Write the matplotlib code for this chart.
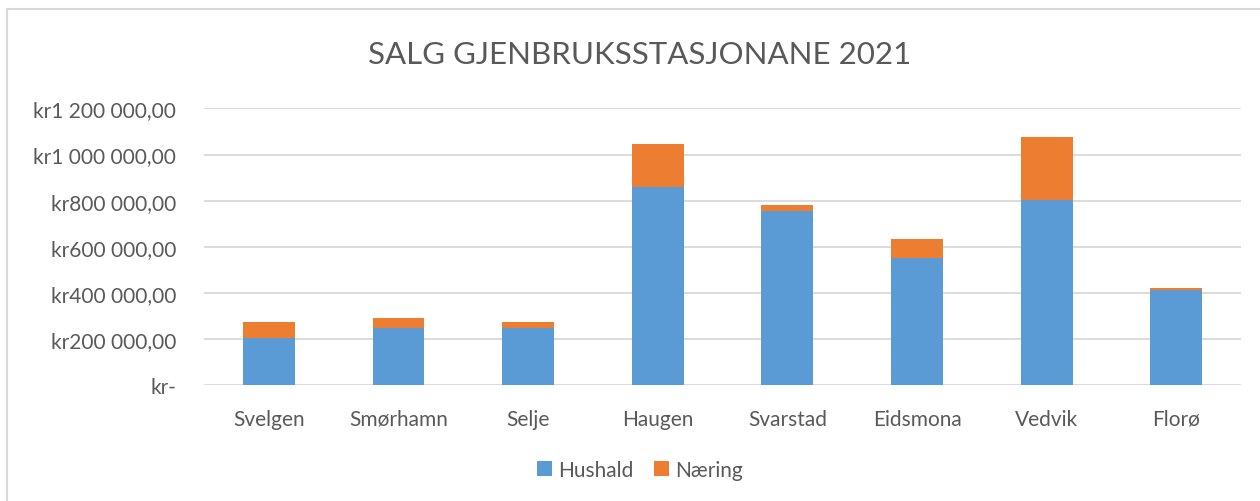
import numpy as np
import matplotlib.pyplot as plt
from matplotlib.patches import Rectangle
from matplotlib.ticker import FuncFormatter

stasjonar = ['Svelgen', 'Smørhamn', 'Selje', 'Haugen', 'Svarstad', 'Eidsmona', 'Vedvik', 'Florø']
hushald = [202000, 246000, 246000, 860000, 753000, 552000, 804000, 414000]
naering = [72000, 45000, 26000, 187000, 29000, 83000, 272000, 8000]
y_ticks = [0, 200000, 400000, 600000, 800000, 1000000, 1200000]

blue = '#5B9BD5'
orange = '#ED7D31'
txt = '#595959'
grid = '#D9D9D9'

plt.rcParams['font.family'] = ['Lato', 'DejaVu Sans']

def kr(v, pos=None):
    if v == 0:
        return 'kr-'
    s = f"{int(v):,}".replace(',', ' ')
    return 'kr' + s + ',00'

fig = plt.figure(figsize=(12.6, 5.02), dpi=100)
ax = fig.add_axes([0.162, 0.231, 0.823, 0.551])

x = np.arange(len(stasjonar))
ax.bar(x, hushald, width=0.4, color=blue, label='Hushald', zorder=3)
ax.bar(x, naering, width=0.4, bottom=hushald, color=orange, label='Næring', zorder=3)

ax.set_xlim(-0.5, len(stasjonar) - 0.5)
ax.set_ylim(0, 1200000)
ax.set_yticks(y_ticks)
ax.yaxis.set_major_formatter(FuncFormatter(kr))
ax.set_xticks(x)
ax.set_xticklabels(stasjonar)
ax.grid(axis='y', color=grid, linewidth=1.3, zorder=0)
for s in ax.spines.values():
    s.set_visible(False)
ax.tick_params(axis='both', length=0, colors=txt, labelsize=15)
ax.tick_params(axis='y', pad=20)
ax.tick_params(axis='x', pad=17)

fig.text(0.508, 0.89, 'SALG GJENBRUKSSTASJONANE 2021', ha='center', va='center',
         fontsize=22.5, color=txt)

fig.legend(loc='center', bbox_to_anchor=(0.508, 0.062), ncol=2, frameon=False,
           fontsize=15, labelcolor=txt, handlelength=0.7, handleheight=0.7,
           handletextpad=0.3, columnspacing=1.0)

fig.patches.append(Rectangle((7 / 1260, -0.1), 2, 1.1 - 10 / 502, transform=fig.transFigure,
                             fill=False, edgecolor=grid, linewidth=1.5))

fig.savefig('out.png', dpi=100)
